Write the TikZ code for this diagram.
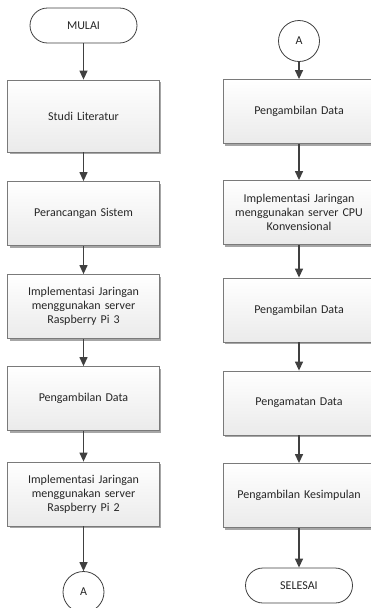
\documentclass[tikz,border=0pt]{standalone}
\usepackage{fontspec}
\setmainfont{Carlito}
\usetikzlibrary{positioning,arrows.meta,shadows}
\definecolor{linegray}{HTML}{404040}
\definecolor{boxgray}{HTML}{7A7A7A}
\begin{document}
\begin{tikzpicture}[x=1pt,y=1pt,node distance=93pt,
  font=\fontsize{12}{14}\selectfont,
  proses/.style = {draw=boxgray, line width=0.8pt, top color=white, bottom color=black!8,
    minimum width=150pt, minimum height=64pt, text width=145pt, align=center,
    text=black!85, drop shadow={shadow xshift=2pt, shadow yshift=-2pt, fill=black!35, opacity=1}},
  terminal/.style = {draw=linegray, line width=0.8pt, fill=white, rounded corners=17.5pt,
    minimum width=107pt, minimum height=35pt, text=black!85},
  konektor/.style = {draw=linegray, line width=0.8pt, fill=white, circle, inner sep=0pt,
    minimum size=41pt, text=black!85},
  panah/.style = {->, >={Triangle[width=8pt,length=9pt]}, draw=linegray, line width=1.3pt}]
\useasboundingbox (0,0) rectangle (371,-608);
% kolom kiri
\node[terminal] (mulai) at (83.5,-25.5) {MULAI};
\node[proses, minimum height=72pt] (studi) [below of=mulai, node distance=90.5pt] {Studi Literatur};
\node[proses] (rancang) [below of=studi, node distance=97.5pt] {Perancangan Sistem};
\node[proses] (pi3) [below of=rancang] {Implementasi Jaringan\\ menggunakan server\\ Raspberry Pi 3};
\node[proses] (data1) [below of=pi3, node distance=92pt] {Pengambilan Data};
\node[proses] (pi2) [below of=data1, node distance=95.5pt] {Implementasi Jaringan\\ menggunakan server\\ Raspberry Pi 2};
\node[konektor] (konA) [below of=pi2, node distance=98pt] {A};
% kolom kanan
\node[konektor] (konB) at (299,-41) {A};
\node[proses] (data2) [below of=konB, node distance=70.5pt] {Pengambilan Data};
\node[proses] (cpu) [below of=data2, node distance=101pt] {Implementasi Jaringan\\ menggunakan server CPU\\ Konvensional};
\node[proses] (data3) [below of=cpu, node distance=97.5pt] {Pengambilan Data};
\node[proses] (amati) [below of=data3] {Pengamatan Data};
\node[proses] (simpul) [below of=amati, node distance=92.5pt] {Pengambilan Kesimpulan};
\node[terminal] (selesai) [below of=simpul, node distance=90pt] {SELESAI};
\draw[panah] (mulai) -- (studi);
\draw[panah] (studi) -- (rancang);
\draw[panah] (rancang) -- (pi3);
\draw[panah] (pi3) -- (data1);
\draw[panah] (data1) -- (pi2);
\draw[panah] (pi2) -- (konA);
\draw[panah] (konB) -- (data2);
\draw[panah] (data2) -- (cpu);
\draw[panah] (cpu) -- (data3);
\draw[panah] (data3) -- (amati);
\draw[panah] (amati) -- (simpul);
\draw[panah] (simpul) -- (selesai);
\end{tikzpicture}
\end{document}
